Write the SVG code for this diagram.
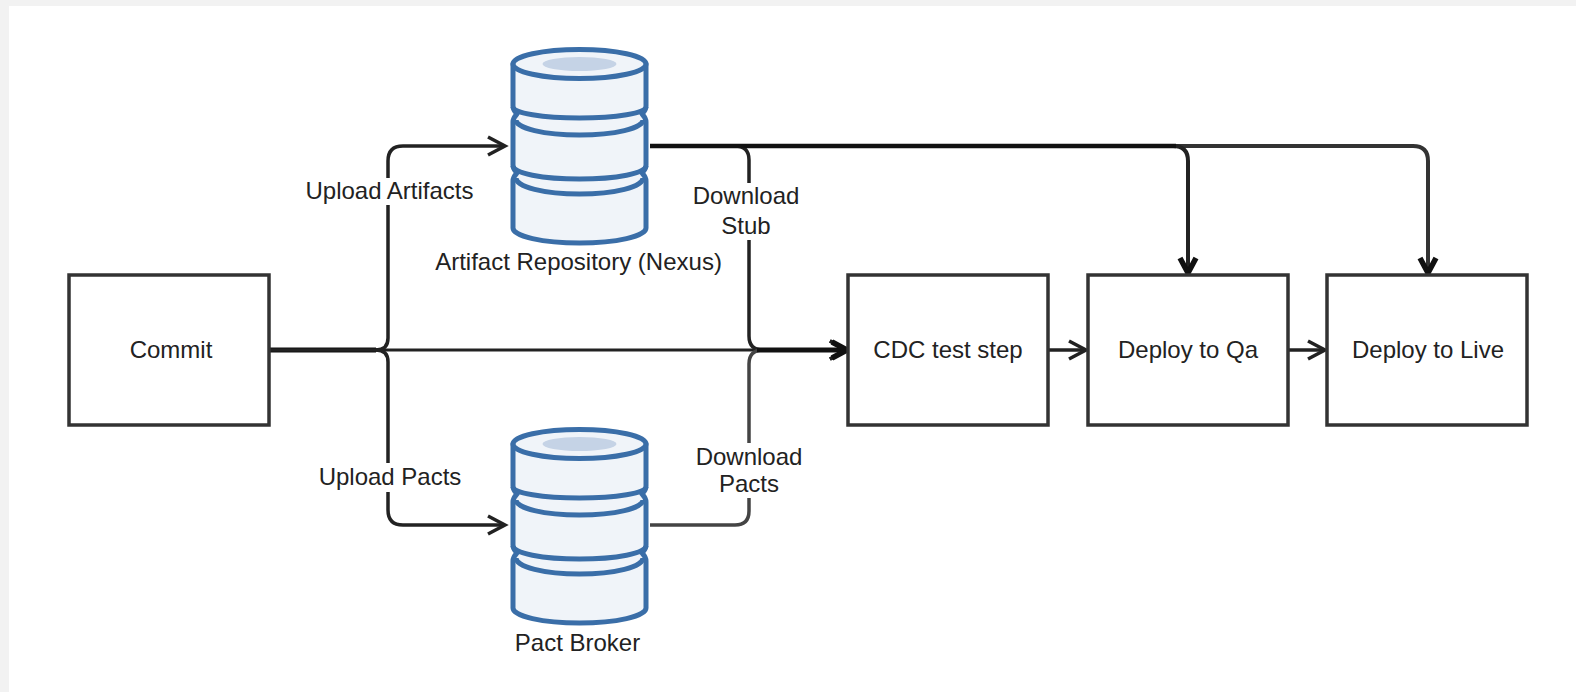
<svg xmlns="http://www.w3.org/2000/svg" width="1576" height="692" viewBox="0 0 1576 692">
<style>
.box{fill:#fff;stroke:#333;stroke-width:3.5}
.c{fill:none;stroke:#222;stroke-width:3.5;marker-end:url(#a)}
.h{fill:none;stroke:#222;stroke-width:4;marker-end:url(#b)}
.n{fill:none;stroke:#111;stroke-width:5}
.db{fill:#f0f4f9;stroke:#3a6ea8;stroke-width:5;stroke-linejoin:round}
.arc{fill:none;stroke:#3a6ea8;stroke-width:5}
.hole{fill:#c5d3e6;stroke:none}
text{font-family:"Liberation Sans",Arial,sans-serif;font-size:24px;fill:#222;text-anchor:middle}
.lb{fill:#fff;stroke:none}
</style>
<defs>
<marker id="a" markerUnits="userSpaceOnUse" markerWidth="28" markerHeight="28" refX="22" refY="14" orient="auto"><path d="M5 5L22 14L5 23" fill="none" stroke="#222" stroke-width="3.500"/></marker>
<marker id="b" markerUnits="userSpaceOnUse" markerWidth="28" markerHeight="28" refX="22" refY="14" orient="auto"><path d="M7 6L22 14L7 22" fill="none" stroke="#111" stroke-width="5.500"/></marker>
<g id="cyl">
<path class="db" d="M513 64V106Q513 110 517 114Q513 118 513 122V165Q513 169 517 173Q513 177 513 181V228A66.500 15 0 0 0 646 228V181Q646 177 642 173Q646 169 646 165V122Q646 118 642 114Q646 110 646 106V64Z"/>
<ellipse class="db" cx="579.500" cy="64" rx="66.500" ry="14.500"/>
<path class="arc" d="M513 107A66.500 11 0 0 0 646 107M516 120A63.500 15 0 0 0 643 120M513 166A66.500 13 0 0 0 646 166M516 178A63.500 16 0 0 0 643 178"/>
<ellipse class="hole" cx="579.500" cy="64" rx="37" ry="7"/>
</g>
</defs>
<rect width="1576" height="692" fill="#f2f2f2"/>
<rect x="9" y="6" width="1567" height="686" fill="#fff"/>
<g id="connectors">
<path class="n" d="M270 350H376"/>
<path class="c" style="stroke-width:3" d="M270 350H847"/>
<path class="c" d="M376 350Q388 350 388 338V161Q388 146 403 146H505"/>
<path class="c" d="M376 350Q388 350 388 362V510Q388 525 403 525H505"/>
<path class="c" d="M650 146H735Q749 146 749 160V336Q749 350 763 350H847"/>
<path class="c" style="stroke:#444" d="M650 525H735Q749 525 749 511V364Q749 350 763 350H847"/>
<path class="n" style="marker-end:url(#b)" d="M757 350H847"/>
<path class="h" style="stroke:#333" d="M650 146H1413Q1428 146 1428 161V273"/>
<path class="h" d="M650 146H1173Q1188 146 1188 161V273"/>
<path class="n" style="stroke-width:4.500" d="M650 146H1176"/>
<path class="c" d="M1048 350H1086"/>
<path class="c" d="M1288 350H1325"/>
</g>
<g id="commit"><rect class="box" x="69" y="275" width="200" height="150"/><text x="171" y="358">Commit</text></g>
<g id="cdc"><rect class="box" x="848" y="275" width="200" height="150"/><text x="948" y="358">CDC test step</text></g>
<g id="qa"><rect class="box" x="1088" y="275" width="200" height="150"/><text x="1188" y="358">Deploy to Qa</text></g>
<g id="live"><rect class="box" x="1327" y="275" width="200" height="150"/><text x="1428" y="358">Deploy to Live</text></g>
<g id="artifact-repository"><use href="#cyl"/><text x="578.500" y="270">Artifact Repository (Nexus)</text></g>
<g id="pact-broker"><use href="#cyl" y="380"/><text x="577.500" y="651">Pact Broker</text></g>
<g id="labels">
<rect class="lb" x="305" y="178" width="170" height="27"/><text x="389.500" y="199">Upload Artifacts</text>
<rect class="lb" x="320" y="463" width="142" height="29"/><text x="390" y="485">Upload Pacts</text>
<rect class="lb" x="694" y="183" width="106" height="57"/><text x="746" y="204">Download</text><text x="746" y="234">Stub</text>
<rect class="lb" x="698" y="443" width="106" height="55"/><text x="749" y="465">Download</text><text x="749" y="492">Pacts</text>
</g>
</svg>
